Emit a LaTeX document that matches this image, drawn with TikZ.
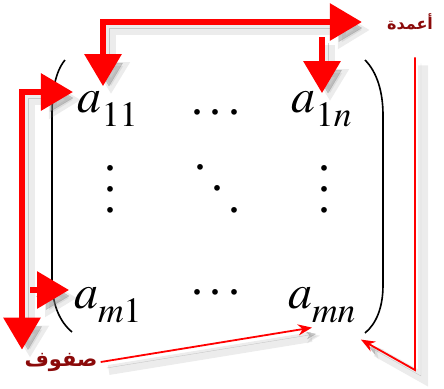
\documentclass[tikz,border=0pt]{standalone}
\usepackage{mathptmx}
\usepackage{fontspec}
\setmainfont{Liberation Serif}
\newfontfamily\arabicfont[Script=Arabic]{DejaVu Sans}
\TeXXeTstate=1
\usetikzlibrary{arrows.meta}
\definecolor{arrowred}{HTML}{FF0000}
\definecolor{wordred}{HTML}{8B0A0A}

\newcommand{\matent}[1]{a_{\raisebox{-7pt}{$\scriptstyle #1$}}}
\newcommand{\rowdots}{\hbox{.\kern7pt.\kern7pt.}}
\newcommand{\colvdots}{\vbox{\baselineskip21pt\lineskiplimit0pt\hbox{.}\hbox{.}\hbox{.}}}
\newcommand{\diagdots}{\hbox{\raise43pt\hbox{.}\kern5pt\raise21.5pt\hbox{.}\kern5pt\hbox{.}}}

\begin{document}
\begin{tikzpicture}[
    x=1pt, y=-1pt,
    entry/.style={inner sep=0pt, outer sep=5pt, anchor=base, font=\fontsize{48}{52}\selectfont},
    word/.style={inner sep=3pt, text=wordred, font=\arabicfont\bfseries\fontsize{16}{18}\selectfont},
    fatarrow/.style={-{Triangle[length=32pt,width=36pt]}, line width=6pt, color=arrowred},
    fatbiarrow/.style={{Triangle[length=32pt,width=36pt]}-{Triangle[length=32pt,width=36pt]}, line width=6pt, color=arrowred},
    thinarrow/.style={-{Stealth[length=14pt,width=11pt]}, line width=1.8pt, color=arrowred},
    shadowed/.style={
        preaction={draw=black!50, opacity=0.15, line width=10pt, transform canvas={shift={(8pt,-8pt)}}},
        preaction={draw=black!50, opacity=0.35, transform canvas={shift={(6pt,-6pt)}}}},
    paren/.style={line width=1.6pt},
]
\useasboundingbox (0,0) rectangle (444,388);

% Matrix entries
\node[entry] (a11) at (108,112) {$\matent{11}$};
\node[entry] (a1n) at (322,112) {$\matent{1n}$};
\node[entry] (am1) at (108,308) {$\matent{m1}$};
\node[entry] (amn) at (322,308) {$\matent{mn}$};
\node[entry] (hdotsA) at (216,114) {\rowdots};
\node[entry] (hdotsB) at (216,294) {\rowdots};
\node[entry] (vdotsA) at (110,212) {\colvdots};
\node[entry] (ddots) at (217,212) {\diagdots};
\node[entry] (vdotsB) at (324,212) {\colvdots};

% Parentheses
\draw[paren] (65,60) .. controls (55,72) and (52,92) .. (52,115) -- (52,280)
    .. controls (52,305) and (60,322) .. (72,332);
\draw[paren] (365,60) .. controls (377,72) and (383,92) .. (383,115) -- (383,285)
    .. controls (383,308) and (376,324) .. (365,333);

% Labels
\node[word] (cols) at (410,22) {\beginR أعمدة\endR};
\node[word, font=\arabicfont\bfseries\fontsize{21}{24}\selectfont] (rows) at (61,362) {\beginR صفوف\endR};

% Bends
\coordinate (colA) at (103,22);
\coordinate (colB) at (322,37);
\coordinate (rowA) at (22,92);
\coordinate (rowB) at (30,290);
\coordinate (bend) at (415,370);

% Columns
\draw[fatbiarrow, shadowed] (a11.north -| colA) -- (colA) -- ([xshift=-22pt]cols.west);
\draw[fatarrow, shadowed, shorten >=-7pt] (colB) -- (colB |- a1n.north);

% Rows
\draw[fatbiarrow, shadowed] (a11.west |- rowA) -- (rowA) -- (rowA |- rows.north);
\draw[fatarrow, shadowed] (rowB) -- (am1.west |- rowB);

% Thin pointers
\draw[thinarrow, shadowed] (rows.east) -- ([xshift=-10pt]amn.south);
\draw[thinarrow, shadowed, shorten <=24pt] (cols.south -| bend) -- (bend)
    -- ([yshift=-12pt]amn.south east);

\end{tikzpicture}
\end{document}
